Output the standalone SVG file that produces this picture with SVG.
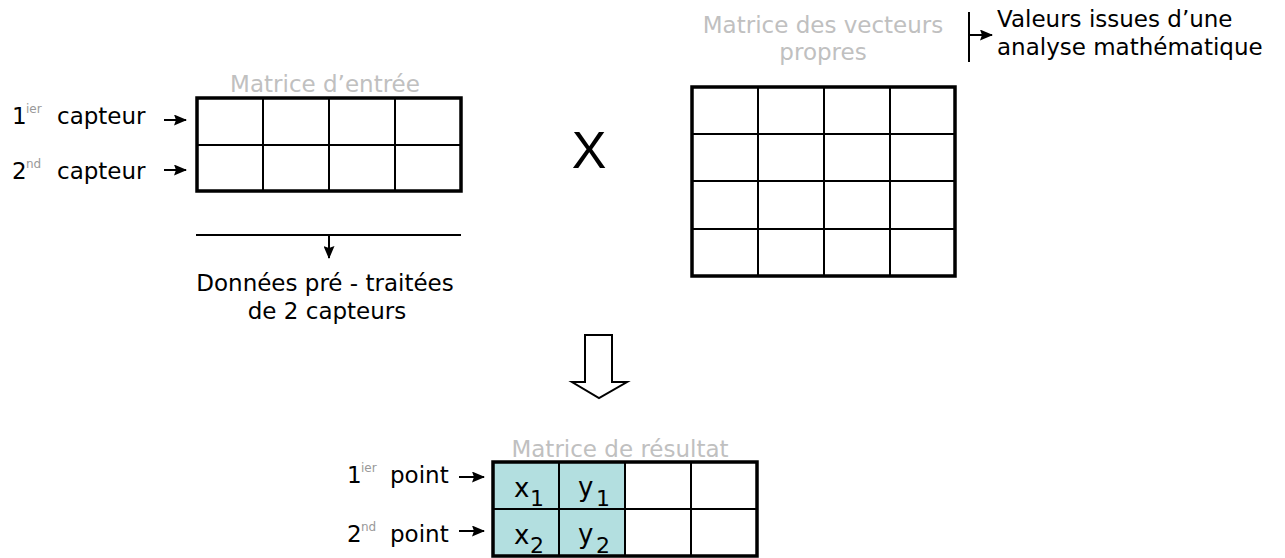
<svg xmlns="http://www.w3.org/2000/svg" width="1285" height="558" viewBox="0 0 1285 558">
<style>
text{font-family:"DejaVu Sans","Liberation Sans",sans-serif;font-size:23px;fill:#000}
.gray{fill:#c0c0c0}
.sup{font-size:12px;fill:#999}
.sub{font-size:22px}
.outer{fill:none;stroke:#000;stroke-width:3.5}
.inner{stroke:#000;stroke-width:2;fill:none}
.conn{stroke:#000;stroke-width:2;fill:none}
.cyan{fill:#b3dfe0}
</style>
<defs>
<marker id="ah" viewBox="0 0 13 11" refX="12" refY="5.5" markerWidth="13" markerHeight="11" markerUnits="userSpaceOnUse" orient="auto">
<path d="M0,0 L13,5.5 L0,11 L2,5.5 z" fill="#000"/>
</marker>
</defs>
<rect width="1285" height="558" fill="#fff"/>

<g id="input-matrix">
<text class="gray" x="325" y="92" text-anchor="middle">Matrice d’entrée</text>
<rect x="197" y="98" width="264" height="93" fill="#fff"/>
<path class="inner" d="M263,98V191M329,98V191M395,98V191M197,145H461"/>
<rect class="outer" x="197" y="98" width="264" height="93"/>
</g>

<g id="sensor-labels">
<text x="12" y="124">1</text><text class="sup" x="26" y="113">ier</text><text x="57" y="124">capteur</text>
<text x="12" y="179">2</text><text class="sup" x="26" y="168">nd</text><text x="57" y="179">capteur</text>
</g>

<g id="times">
<text x="589" y="168" text-anchor="middle" style="font-family:'Liberation Sans',sans-serif;font-size:52px">X</text>
</g>

<g id="eigen-matrix">
<text class="gray" x="823" y="33" text-anchor="middle">Matrice des vecteurs</text>
<text class="gray" x="823" y="60" text-anchor="middle">propres</text>
<rect x="692" y="87" width="263" height="189" fill="#fff"/>
<path class="inner" d="M758,87V276M824,87V276M890,87V276M692,134H955M692,181H955M692,229H955"/>
<rect class="outer" x="692" y="87" width="263" height="189"/>
</g>

<g id="eigen-note">
<text x="997" y="27">Valeurs issues d’une</text>
<text x="997" y="55">analyse mathématique</text>
</g>

<g id="preprocessed-note">
<text x="325" y="291" text-anchor="middle">Données pré - traitées</text>
<text x="327" y="319" text-anchor="middle">de 2 capteurs</text>
</g>

<g id="big-arrow">
<polygon points="585,335 612,335 612,382 627,382 599,398 572,382 585,382" fill="#fff" stroke="#000" stroke-width="2" stroke-linejoin="miter"/>
</g>

<g id="result-matrix">
<text class="gray" x="620" y="457" text-anchor="middle">Matrice de résultat</text>
<rect x="493" y="462" width="264" height="94" fill="#fff"/>
<rect class="cyan" x="493" y="462" width="132" height="94"/>
<path class="inner" d="M559,462V556M625,462V556M691,462V556M493,509H757"/>
<rect class="outer" x="493" y="462" width="264" height="94"/>
<text x="514" y="497" style="font-size:26px">x</text><text class="sub" x="530" y="506">1</text>
<text x="578" y="496" style="font-size:26px">y</text><text class="sub" x="596" y="506">1</text>
<text x="514" y="544" style="font-size:26px">x</text><text class="sub" x="530" y="553">2</text>
<text x="578" y="543" style="font-size:26px">y</text><text class="sub" x="596" y="553">2</text>
</g>

<g id="point-labels">
<text x="347" y="483">1</text><text class="sup" x="361" y="472">ier</text><text x="390" y="483">point</text>
<text x="347" y="542">2</text><text class="sup" x="361" y="531">nd</text><text x="390" y="542">point</text>
</g>

<g id="connectors">
<line class="conn" x1="164" y1="120" x2="186" y2="120" marker-end="url(#ah)"/>
<line class="conn" x1="164" y1="170" x2="186" y2="170" marker-end="url(#ah)"/>
<line class="conn" x1="196" y1="235" x2="461" y2="235"/>
<line class="conn" x1="329" y1="235" x2="329" y2="258" marker-end="url(#ah)"/>
<line class="conn" x1="969" y1="12" x2="969" y2="62"/>
<line class="conn" x1="969" y1="35" x2="992" y2="35" marker-end="url(#ah)"/>
<line class="conn" x1="459" y1="477" x2="484" y2="477" marker-end="url(#ah)"/>
<line class="conn" x1="459" y1="531" x2="484" y2="531" marker-end="url(#ah)"/>
</g>
</svg>
